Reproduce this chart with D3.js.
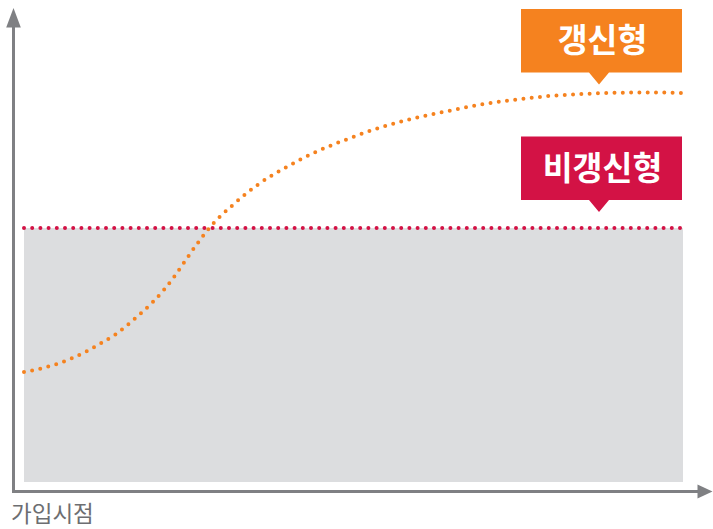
<!DOCTYPE html>
<html>
<head>
<meta charset="utf-8">
<script src="https://cdn.jsdelivr.net/npm/d3@7"></script>
<style>
  body { margin: 0; background: #fff; }
  svg { display: block; font-family: "Noto Sans CJK KR", "Noto Sans", sans-serif; }
</style>
</head>
<body>
<svg width="713" height="529"></svg>
<script>
// time since joining (0-100) and premium level (0-100)
var renewX = [0, 2.8, 5.2, 7.5, 9.8, 11.9, 14.1, 16.0, 17.9, 19.7, 21.4, 22.9, 25.9, 28.2, 31.8, 35.7, 40.1, 44.5, 49.2, 53.9, 58.8, 63.7, 69.8, 74.9, 79.9, 84.9, 89.9, 95.0, 100];
var renewY = [28.2, 29.2, 30.4, 31.9, 33.8, 35.8, 38.1, 40.7, 43.5, 46.4, 49.6, 52.9, 60.2, 65.3, 71.2, 76.5, 81.0, 84.8, 88.0, 90.8, 93.1, 94.9, 96.9, 98.1, 99.0, 99.5, 99.8, 99.9, 99.7];
var flatLevel = 65.1;
var labels = ["갱신형", "비갱신형"];
var axisLabel = "가입시점";

var svg = d3.select("svg");

var x = d3.scaleLinear().domain([0, 100]).range([24, 683]),
    y = d3.scaleLinear().domain([0, 100]).range([482, 92]);

var orange = "#f5821f", red = "#d31245", axisColor = "#7f8083";

// gray area under non-renewal premium
svg.append("rect")
    .attr("x", x(0))
    .attr("y", y(flatLevel))
    .attr("width", x(100) - x(0))
    .attr("height", y(0) - y(flatLevel))
    .attr("fill", "#dcdddf");

// axes
svg.append("line")
    .attr("x1", 13.5).attr("y1", 493)
    .attr("x2", 13.5).attr("y2", 24)
    .attr("stroke", axisColor).attr("stroke-width", 3);
svg.append("path")
    .attr("d", "M13.5,8 L6.2,27.5 L20.8,27.5 Z")
    .attr("fill", axisColor);
svg.append("line")
    .attr("x1", 12).attr("y1", 491.5)
    .attr("x2", 700).attr("y2", 491.5)
    .attr("stroke", axisColor).attr("stroke-width", 3);
svg.append("path")
    .attr("d", "M712.5,491.5 L697.5,484.5 L697.5,498.5 Z")
    .attr("fill", axisColor);

// flat (non-renewal) line
svg.append("line")
    .attr("x1", x(0)).attr("y1", y(flatLevel))
    .attr("x2", x(100)).attr("y2", y(flatLevel))
    .attr("stroke", red)
    .attr("stroke-width", 4)
    .attr("stroke-linecap", "round")
    .attr("stroke-dasharray", "0 8.2");

// renewal curve
var line = d3.line()
    .curve(d3.curveMonotoneX)
    .x(function(d) { return x(d[0]); })
    .y(function(d) { return y(d[1]); });

svg.append("path")
    .datum(d3.zip(renewX, renewY))
    .attr("d", line)
    .attr("fill", "none")
    .attr("stroke", orange)
    .attr("stroke-width", 4)
    .attr("stroke-linecap", "round")
    .attr("stroke-dasharray", "0 8.3");

// callout boxes
function callout(top, color, text) {
  var l = 521, r = 682, b = top + 63.5, cx = 599;
  svg.append("path")
      .attr("d", "M" + l + "," + top + " H" + r + " V" + b + " H" + (cx + 10) +
                 " L" + cx + "," + (b + 12) + " L" + (cx - 10) + "," + b + " H" + l + " Z")
      .attr("fill", color);
  svg.append("text")
      .attr("x", (l + r) / 2 + 1)
      .attr("y", top + 31.5)
      .attr("dy", "0.36em")
      .attr("text-anchor", "middle")
      .attr("fill", "#fff")
      .style("font-size", "32.5px")
      .style("font-weight", "bold")
      .text(text);
}
callout(9, orange, labels[0]);
callout(136.5, red, labels[1]);

svg.append("text")
    .attr("x", 11)
    .attr("y", 514)
    .attr("dy", "0.36em")
    .attr("fill", "#6d6e71")
    .style("font-size", "22.5px")
    .text(axisLabel);
</script>
</body>
</html>
